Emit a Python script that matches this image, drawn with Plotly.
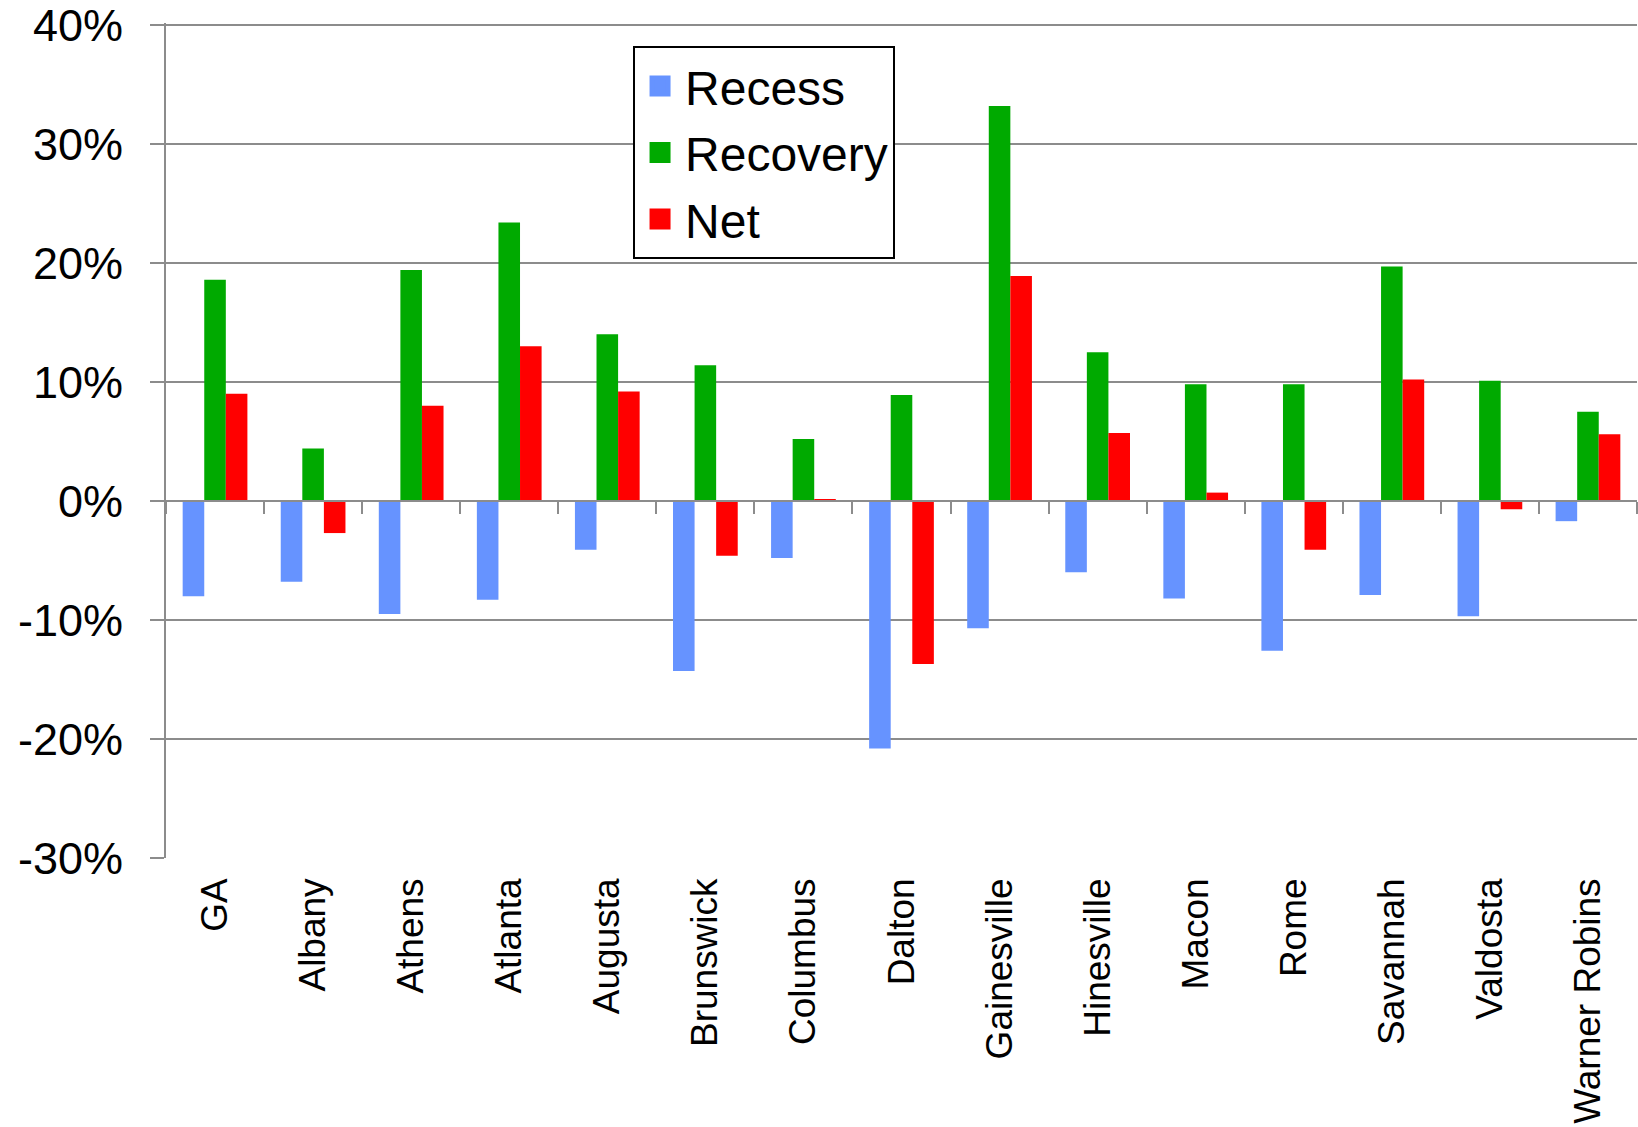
import plotly.graph_objects as go

# Employment change by Georgia metro area
categories = ["GA", "Albany", "Athens", "Atlanta", "Augusta", "Brunswick", "Columbus",
              "Dalton", "Gainesville", "Hinesville", "Macon", "Rome", "Savannah",
              "Valdosta", "Warner Robins"]
recess = [-0.080, -0.068, -0.095, -0.083, -0.041, -0.143, -0.048, -0.208, -0.107,
          -0.060, -0.082, -0.126, -0.079, -0.097, -0.017]
recovery = [0.186, 0.044, 0.194, 0.234, 0.140, 0.114, 0.052, 0.089, 0.332,
            0.125, 0.098, 0.098, 0.197, 0.101, 0.075]
net = [0.090, -0.027, 0.080, 0.130, 0.092, -0.046, 0.001, -0.137, 0.189,
       0.057, 0.007, -0.041, 0.102, -0.007, 0.056]

y_ticks = [-0.3, -0.2, -0.1, 0.0, 0.1, 0.2, 0.3, 0.4]
y_tick_text = [f"{round(v * 100):d}%" for v in y_ticks]

series = [("Recess", recess, "#6693FF"),
          ("Recovery", recovery, "#00AA00"),
          ("Net", net, "#FF0000")]

# a little headroom above 40% so its gridline is kept
y_min, y_max = -0.3001, 0.4017
grid = "#8C8C8C"
font_family = "Liberation Sans, Arial, sans-serif"

fig = go.Figure()
for name, vals, color in series:
    fig.add_trace(go.Bar(x=categories, y=vals, name=name, marker_color=color,
                         marker_line_width=0, showlegend=False))

# invisible trace that carries the category ticks along the zero line
fig.add_trace(go.Scatter(x=categories, y=recess, xaxis="x2", mode="markers",
                         marker=dict(opacity=0, size=1), showlegend=False,
                         hoverinfo="skip"))

# legend entries with large square swatches
for name, vals, color in series:
    fig.add_trace(go.Scatter(x=[None], y=[None], mode="markers", name=name,
                             legendgroup=name,
                             marker=dict(symbol="square", size=16, color=color,
                                         line=dict(color=color, width=5))))

x_range = [-0.5, len(categories) - 0.5]

fig.update_layout(
    width=1638, height=1127,
    margin=dict(l=166, r=1, t=23, b=269),
    paper_bgcolor="white", plot_bgcolor="white",
    font=dict(family=font_family, color="black"),
    barmode="group", bargap=0.34, bargroupgap=0,
    legend=dict(x=0.3175, y=0.972, xanchor="left", yanchor="top",
                bordercolor="black", borderwidth=2, bgcolor="white",
                font=dict(size=48, family=font_family),
                itemsizing="trace", itemwidth=40,
                traceorder="grouped", tracegroupgap=1),
    xaxis=dict(type="category", range=x_range, showline=False, ticks="",
               showgrid=False, tickangle=-90, tickfont=dict(size=37),
               ticklabelstandoff=12, zeroline=False, automargin=False),
    xaxis2=dict(type="category", overlaying="x", matches="x", anchor="free",
                position=(0 - y_min) / (y_max - y_min), side="bottom",
                showline=True, linecolor=grid, linewidth=2,
                ticks="outside", tickson="boundaries", ticklen=12, tickwidth=2,
                tickcolor=grid, showticklabels=False, showgrid=False,
                automargin=False),
    yaxis=dict(range=[y_min, y_max], tickvals=y_ticks, ticktext=y_tick_text,
               tickfont=dict(size=45), ticklabeloverflow="allow",
               automargin=False,
               showgrid=True, gridcolor=grid, gridwidth=2,
               showline=True, linecolor=grid, linewidth=2,
               ticks="outside", ticklen=14, tickwidth=2, tickcolor=grid,
               ticklabelstandoff=18, zeroline=False),
)

fig.write_html("out.html")
